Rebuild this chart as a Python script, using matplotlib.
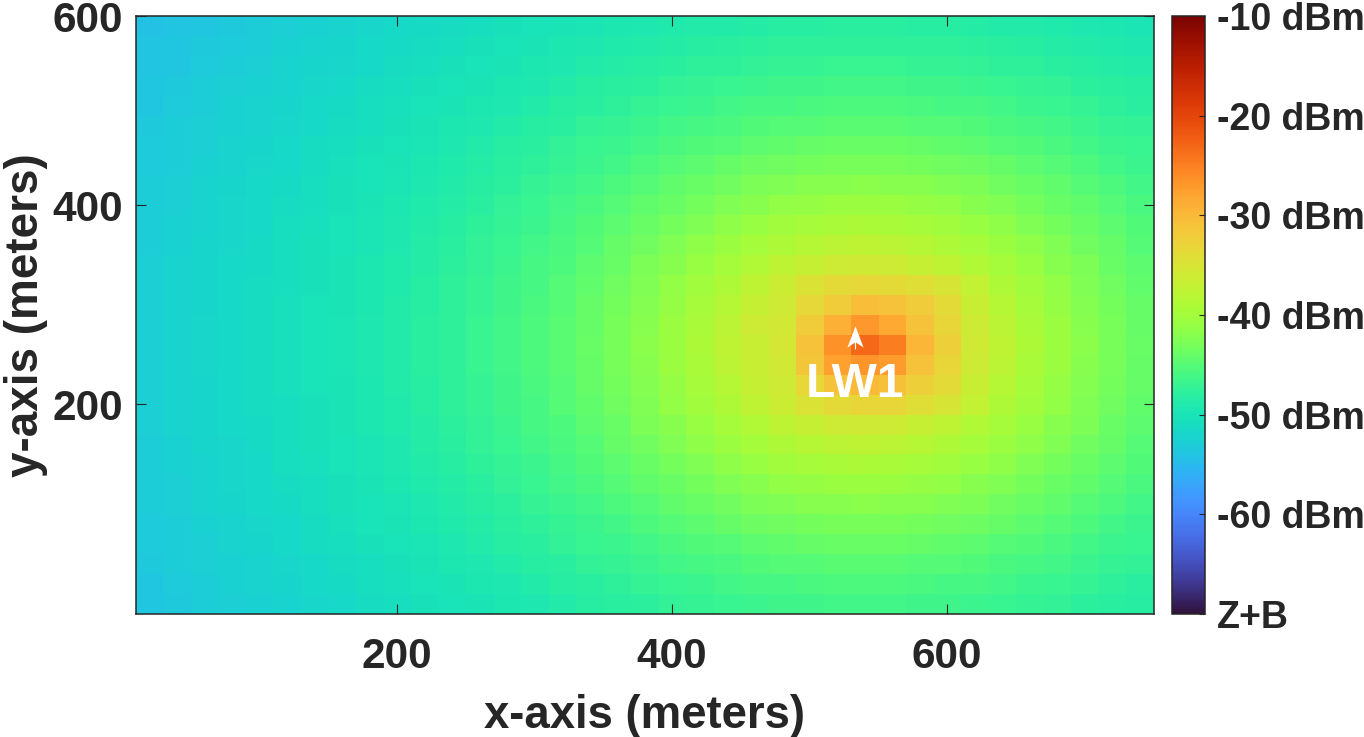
#!/usr/bin/env python3

import matplotlib
matplotlib.use("Agg")
import matplotlib.pyplot as plt
import numpy as np

# received power per 20 m cell (dBm), top row first
power = [
 [-54.2,-53.9,-53.6,-53.4,-53.1,-52.8,-52.5,-52.2,-51.9,-51.7,-51.3,-51.1,-50.8,-50.5,-50.3,-50.0,-49.8,-49.5,-49.3,-49.1,-48.9,-48.7,-48.5,-48.4,-48.3,-48.2,-48.2,-48.2,-48.3,-48.4,-48.5,-48.7,-48.9,-49.1,-49.3,-49.5,-49.8],
 [-54.0,-53.8,-53.5,-53.2,-52.9,-52.6,-52.3,-52.0,-51.7,-51.4,-51.1,-50.8,-50.5,-50.2,-49.9,-49.6,-49.3,-49.1,-48.8,-48.5,-48.3,-48.0,-47.8,-47.7,-47.7,-47.6,-47.6,-47.6,-47.7,-47.7,-47.8,-48.0,-48.3,-48.5,-48.8,-49.1,-49.3],
 [-53.9,-53.6,-53.3,-53.0,-52.7,-52.4,-52.1,-51.8,-51.5,-51.1,-50.8,-50.5,-50.2,-49.9,-49.5,-49.2,-48.9,-48.6,-48.3,-48.0,-47.7,-47.6,-47.4,-47.2,-47.1,-47.0,-47.0,-47.0,-47.1,-47.2,-47.4,-47.6,-47.7,-48.0,-48.3,-48.6,-48.9],
 [-53.7,-53.5,-53.1,-52.8,-52.5,-52.2,-51.9,-51.6,-51.2,-50.9,-50.5,-50.2,-49.9,-49.5,-49.2,-48.8,-48.4,-48.1,-47.8,-47.5,-47.2,-46.9,-46.7,-46.5,-46.4,-46.3,-46.3,-46.3,-46.4,-46.5,-46.7,-46.9,-47.2,-47.5,-47.8,-48.1,-48.4],
 [-53.6,-53.3,-53.0,-52.6,-52.3,-52.0,-51.7,-51.3,-51.0,-50.6,-50.3,-49.9,-49.5,-49.2,-48.8,-48.4,-48.0,-47.6,-47.2,-46.9,-46.6,-46.3,-46.0,-45.9,-45.7,-45.6,-45.6,-45.6,-45.7,-45.9,-46.0,-46.3,-46.6,-46.9,-47.2,-47.6,-48.0],
 [-53.4,-53.1,-52.8,-52.5,-52.2,-51.8,-51.5,-51.1,-50.8,-50.4,-50.0,-49.6,-49.2,-48.8,-48.4,-48.0,-47.5,-47.1,-46.7,-46.3,-45.9,-45.7,-45.3,-45.1,-45.0,-44.8,-44.8,-44.8,-45.0,-45.1,-45.3,-45.7,-45.9,-46.3,-46.7,-47.1,-47.5],
 [-53.3,-53.0,-52.7,-52.3,-52.0,-51.6,-51.2,-50.9,-50.5,-50.1,-49.8,-49.3,-48.9,-48.4,-48.0,-47.5,-47.0,-46.6,-46.2,-45.8,-45.3,-45.0,-44.6,-44.3,-44.1,-43.9,-43.9,-43.9,-44.1,-44.3,-44.6,-45.0,-45.3,-45.8,-46.2,-46.6,-47.0],
 [-53.2,-52.9,-52.5,-52.2,-51.9,-51.5,-51.1,-50.7,-50.3,-49.9,-49.5,-49.1,-48.6,-48.1,-47.6,-47.1,-46.6,-46.1,-45.6,-45.1,-44.6,-44.2,-43.7,-43.4,-43.2,-43.0,-42.9,-43.0,-43.2,-43.4,-43.7,-44.2,-44.6,-45.1,-45.6,-46.1,-46.6],
 [-53.1,-52.8,-52.4,-52.0,-51.7,-51.3,-50.9,-50.5,-50.1,-49.7,-49.3,-48.8,-48.3,-47.8,-47.2,-46.7,-46.2,-45.6,-45.0,-44.4,-43.9,-43.3,-42.8,-42.4,-42.0,-41.9,-41.8,-41.9,-42.0,-42.4,-42.8,-43.3,-43.9,-44.4,-45.0,-45.6,-46.2],
 [-53.0,-52.7,-52.3,-51.9,-51.6,-51.2,-50.8,-50.4,-50.0,-49.5,-49.1,-48.5,-48.0,-47.5,-46.9,-46.3,-45.8,-45.1,-44.4,-43.8,-43.1,-42.5,-41.9,-41.3,-41.0,-40.7,-40.6,-40.7,-41.0,-41.3,-41.9,-42.5,-43.1,-43.8,-44.4,-45.1,-45.8],
 [-52.9,-52.6,-52.2,-51.9,-51.5,-51.0,-50.7,-50.3,-49.8,-49.3,-48.9,-48.3,-47.7,-47.2,-46.6,-45.9,-45.3,-44.5,-43.9,-43.1,-42.4,-41.6,-40.9,-40.2,-39.6,-39.3,-39.2,-39.3,-39.6,-40.2,-40.9,-41.6,-42.4,-43.1,-43.9,-44.5,-45.3],
 [-52.9,-52.5,-52.1,-51.8,-51.4,-51.0,-50.5,-50.1,-49.7,-49.2,-48.6,-48.0,-47.5,-46.9,-46.3,-45.7,-45.0,-44.2,-43.3,-42.5,-41.6,-40.7,-39.8,-38.9,-38.2,-37.7,-37.5,-37.7,-38.2,-38.9,-39.8,-40.7,-41.6,-42.5,-43.3,-44.2,-45.0],
 [-52.8,-52.4,-52.0,-51.7,-51.3,-50.9,-50.4,-50.0,-49.5,-49.1,-48.5,-47.8,-47.3,-46.7,-46.0,-45.4,-44.6,-43.8,-42.8,-41.9,-40.9,-39.8,-38.6,-37.5,-36.8,-36.2,-36.0,-36.2,-36.8,-37.5,-38.6,-39.8,-40.9,-41.9,-42.8,-43.8,-44.6],
 [-52.8,-52.4,-52.0,-51.6,-51.2,-50.8,-50.4,-49.9,-49.4,-49.0,-48.4,-47.7,-47.2,-46.5,-45.9,-45.1,-44.3,-43.4,-42.4,-41.3,-40.2,-38.9,-37.5,-36.3,-34.7,-33.7,-33.5,-33.7,-34.2,-35.3,-37.0,-38.9,-40.2,-41.3,-42.4,-43.4,-44.3],
 [-52.7,-52.3,-52.0,-51.6,-51.2,-50.7,-50.3,-49.9,-49.4,-48.9,-48.3,-47.7,-47.1,-46.4,-45.7,-45.0,-44.1,-43.1,-42.2,-41.0,-39.6,-38.2,-36.8,-36.0,-33.5,-32.0,-30.5,-31.0,-32.0,-33.8,-36.6,-38.2,-39.6,-41.0,-42.2,-43.1,-44.1],
 [-52.7,-52.3,-51.9,-51.6,-51.1,-50.7,-50.3,-49.8,-49.3,-48.8,-48.2,-47.6,-47.0,-46.3,-45.6,-44.8,-44.0,-43.0,-41.9,-40.7,-39.3,-37.7,-36.2,-35.7,-32.0,-29.0,-27.0,-28.5,-31.0,-33.0,-36.2,-37.7,-39.3,-40.7,-41.9,-43.0,-44.0],
 [-52.7,-52.3,-51.9,-51.6,-51.1,-50.7,-50.3,-49.8,-49.3,-48.8,-48.2,-47.6,-47.0,-46.3,-45.6,-44.8,-43.9,-42.9,-41.8,-40.6,-39.2,-37.5,-36.5,-35.5,-31.0,-26.5,-23.2,-25.0,-29.5,-32.5,-36.0,-37.5,-39.2,-40.6,-41.8,-42.9,-43.9],
 [-52.7,-52.3,-51.9,-51.6,-51.1,-50.7,-50.3,-49.8,-49.3,-48.8,-48.2,-47.6,-47.0,-46.3,-45.6,-44.8,-44.0,-43.0,-41.9,-40.7,-39.3,-37.7,-36.5,-35.7,-31.5,-27.8,-26.8,-27.3,-31.0,-33.0,-36.2,-37.7,-39.3,-40.7,-41.9,-43.0,-44.0],
 [-52.7,-52.3,-52.0,-51.6,-51.2,-50.7,-50.3,-49.9,-49.4,-48.9,-48.3,-47.7,-47.1,-46.4,-45.7,-45.0,-44.1,-43.1,-42.2,-41.0,-39.6,-38.2,-36.8,-36.0,-33.3,-31.0,-30.0,-30.7,-32.5,-33.8,-36.6,-38.2,-39.6,-41.0,-42.2,-43.1,-44.1],
 [-52.8,-52.4,-52.0,-51.6,-51.2,-50.8,-50.4,-49.9,-49.4,-49.0,-48.4,-47.7,-47.2,-46.5,-45.9,-45.1,-44.3,-43.4,-42.4,-41.3,-40.2,-38.9,-37.5,-36.3,-34.7,-33.7,-33.0,-33.2,-34.2,-35.3,-37.0,-38.9,-40.2,-41.3,-42.4,-43.4,-44.3],
 [-52.8,-52.4,-52.0,-51.7,-51.3,-50.9,-50.4,-50.0,-49.5,-49.1,-48.5,-47.8,-47.3,-46.7,-46.0,-45.4,-44.6,-43.8,-42.8,-41.9,-40.9,-39.8,-38.6,-37.5,-36.8,-36.2,-36.0,-36.2,-36.8,-37.5,-38.6,-39.8,-40.9,-41.9,-42.8,-43.8,-44.6],
 [-52.9,-52.5,-52.1,-51.8,-51.4,-51.0,-50.5,-50.1,-49.7,-49.2,-48.6,-48.0,-47.5,-46.9,-46.3,-45.7,-45.0,-44.2,-43.3,-42.5,-41.6,-40.7,-39.8,-38.9,-38.2,-37.7,-37.5,-37.7,-38.2,-38.9,-39.8,-40.7,-41.6,-42.5,-43.3,-44.2,-45.0],
 [-52.9,-52.6,-52.2,-51.9,-51.5,-51.0,-50.7,-50.3,-49.8,-49.3,-48.9,-48.3,-47.7,-47.2,-46.6,-45.9,-45.3,-44.5,-43.9,-43.1,-42.4,-41.6,-40.9,-40.2,-39.6,-39.3,-39.2,-39.3,-39.6,-40.2,-40.9,-41.6,-42.4,-43.1,-43.9,-44.5,-45.3],
 [-53.0,-52.7,-52.3,-51.9,-51.6,-51.2,-50.8,-50.4,-50.0,-49.5,-49.1,-48.5,-48.0,-47.5,-46.9,-46.3,-45.8,-45.1,-44.4,-43.8,-43.1,-42.5,-41.9,-41.3,-41.0,-40.7,-40.6,-40.7,-41.0,-41.3,-41.9,-42.5,-43.1,-43.8,-44.4,-45.1,-45.8],
 [-53.1,-52.8,-52.4,-52.0,-51.7,-51.3,-50.9,-50.5,-50.1,-49.7,-49.3,-48.8,-48.3,-47.8,-47.2,-46.7,-46.2,-45.6,-45.0,-44.4,-43.9,-43.3,-42.8,-42.4,-42.0,-41.9,-41.8,-41.9,-42.0,-42.4,-42.8,-43.3,-43.9,-44.4,-45.0,-45.6,-46.2],
 [-53.2,-52.9,-52.5,-52.2,-51.9,-51.5,-51.1,-50.7,-50.3,-49.9,-49.5,-49.1,-48.6,-48.1,-47.6,-47.1,-46.6,-46.1,-45.6,-45.1,-44.6,-44.2,-43.7,-43.4,-43.2,-43.0,-42.9,-43.0,-43.2,-43.4,-43.7,-44.2,-44.6,-45.1,-45.6,-46.1,-46.6],
 [-53.3,-53.0,-52.7,-52.3,-52.0,-51.6,-51.2,-50.9,-50.5,-50.1,-49.8,-49.3,-48.9,-48.4,-48.0,-47.5,-47.0,-46.6,-46.2,-45.8,-45.3,-45.0,-44.6,-44.3,-44.1,-43.9,-43.9,-43.9,-44.1,-44.3,-44.6,-45.0,-45.3,-45.8,-46.2,-46.6,-47.0],
 [-53.4,-53.1,-52.8,-52.5,-52.2,-51.8,-51.5,-51.1,-50.8,-50.4,-50.0,-49.6,-49.2,-48.8,-48.4,-48.0,-47.5,-47.1,-46.7,-46.3,-45.9,-45.7,-45.3,-45.1,-45.0,-44.8,-44.8,-44.8,-45.0,-45.1,-45.3,-45.7,-45.9,-46.3,-46.7,-47.1,-47.5],
 [-53.6,-53.3,-53.0,-52.6,-52.3,-52.0,-51.7,-51.3,-51.0,-50.6,-50.3,-49.9,-49.5,-49.2,-48.8,-48.4,-48.0,-47.6,-47.2,-46.9,-46.6,-46.3,-46.0,-45.9,-45.7,-45.6,-45.6,-45.6,-45.7,-45.9,-46.0,-46.3,-46.6,-46.9,-47.2,-47.6,-48.0],
 [-53.7,-53.5,-53.1,-52.8,-52.5,-52.2,-51.9,-51.6,-51.2,-50.9,-50.5,-50.2,-49.9,-49.5,-49.2,-48.8,-48.4,-48.1,-47.8,-47.5,-47.2,-46.9,-46.7,-46.5,-46.4,-46.3,-46.3,-46.3,-46.4,-46.5,-46.7,-46.9,-47.2,-47.5,-47.8,-48.1,-48.4],
]

x_ticks = [200, 400, 600]
y_ticks = [200, 400, 590]
y_tick_labels = ["200", "400", "600"]
bar_ticks = [-70, -60, -50, -40, -30, -20, -10]
bar_labels = ["Z+B", "-60 dBm", "-50 dBm", "-40 dBm", "-30 dBm", "-20 dBm", "-10 dBm"]
lw_x = 533
lw_y = 268

dark = "#262626"
plt.rcParams["font.family"] = ["Liberation Sans", "DejaVu Sans"]
plt.rcParams["font.weight"] = "bold"

W, H = 1364, 737
fig = plt.figure(figsize=(W / 100, H / 100), dpi=100)
ax = fig.add_axes([135.5 / W, 1 - 613.5 / H, 1018 / W, 597.5 / H])
im = ax.imshow(np.array(power), extent=[10, 750, -10, 590], origin="upper",
               aspect="auto", cmap="turbo", vmin=-70, vmax=-10, interpolation="nearest")

ax.set_xticks(x_ticks)
ax.set_yticks(y_ticks)
ax.set_yticklabels(y_tick_labels)
ax.tick_params(axis="x", direction="in", length=7.5, width=0.8, color=dark, labelcolor=dark,
               labelsize=30.5, pad=17, top=True)
ax.tick_params(axis="y", direction="in", length=7.5, width=0.8, color=dark, labelcolor=dark,
               labelsize=30.5, pad=9, right=True)
ax.set_xlabel("x-axis (meters)", fontsize=32.8, fontweight="bold", color=dark, labelpad=12)
ax.set_ylabel("y-axis (meters)", fontsize=33, fontweight="bold", color=dark, labelpad=3)
for s in ax.spines.values():
    s.set_color(dark)
    s.set_linewidth(1.1)

# source marker, arrow head with a notch and a thin stem
head = [(0, 1), (-0.72, -0.9), (-0.05, -0.45), (-0.05, -1.05), (0.05, -1.05), (0.05, -0.45), (0.72, -0.9)]
ax.plot([lw_x], [lw_y], marker=head, color="white", markeredgewidth=0, markersize=17)
ax.text(lw_x, lw_y - 48, "LW1", color="white", fontsize=34.5, fontweight="bold",
        ha="center", va="center")

cax = fig.add_axes([1171.5 / W, 1 - 614 / H, 33 / W, 598 / H])
cb = fig.colorbar(im, cax=cax, ticks=bar_ticks)
cb.ax.set_yticklabels(bar_labels)
cb.ax.tick_params(direction="in", length=4, width=0.8, color=dark, labelcolor=dark,
                  labelsize=27, pad=9)
cb.outline.set_edgecolor(dark)
cb.outline.set_linewidth(1.1)

fig.savefig("out.png", dpi=100)
